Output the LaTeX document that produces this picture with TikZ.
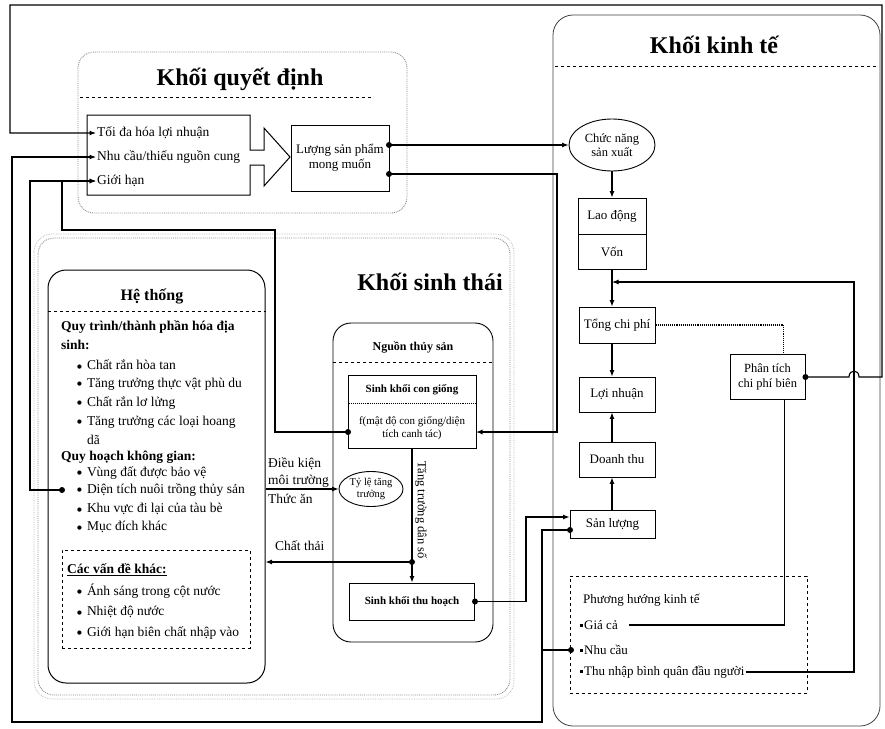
\documentclass[tikz,border=0pt]{standalone}
\usepackage{fontspec}
\setmainfont{Liberation Serif}
\newfontfamily\djfont{DejaVu Sans}
\usetikzlibrary{arrows.meta,shapes.geometric,calc}
\newcommand\bul{\raisebox{1.5pt}{\djfont\fontsize{5.5}{6}\selectfont ●}\hspace{5pt}}
\newcommand\sqb{\rule[2.5pt]{3pt}{3pt}\hspace{1pt}}
\tikzset{
  conn/.style={draw=black, line width=1.1pt},
  arr/.style={conn, -{Latex[length=6.5pt,width=5pt]}},
  blk/.style={draw=black!45, densely dotted, line width=0.9pt, rounded corners=16pt},
  box/.style={draw=black, line width=0.9pt, rectangle, inner sep=2pt, align=center, font=\fontsize{13}{15}\selectfont},
  lbl/.style={inner sep=1pt, anchor=west, font=\fontsize{13.5}{15}\selectfont},
  sml/.style={inner sep=1pt, align=center, font=\fontsize{11}{13}\selectfont},
  ttl/.style={inner sep=0pt, font=\fontsize{24}{28}\selectfont\bfseries},
}
\begin{document}
\begin{tikzpicture}[x=1pt,y=-1pt]
\useasboundingbox (0,0) rectangle (885,728);

% ---------- block frames ----------
\draw[blk] (78,52) rectangle (407,213);
\node[ttl] (tqd) at (240,79) {Khối quyết định};
\draw[dashed, line width=0.9pt] (80,97) -- (372,97);

\draw[blk] (38,238) rectangle (510,695);
\draw[draw=black!30, densely dotted, line width=0.7pt, rounded corners=18pt] (34,234) rectangle (514,699);
\node[ttl] (tst) at (430,282) {Khối sinh thái};

\draw[draw=black!75, line width=0.8pt, rounded corners=20pt] (553,15) rectangle (880,726);
\node[ttl] (tkt) at (714,45) {Khối kinh tế};
\draw[dashed, line width=0.9pt] (555,66) -- (878,66);

% ---------- decision block ----------
\draw[line width=1pt] (87,115) -- (250,115) -- (250,150) -- (264,150) -- (264,128) -- (290,157) -- (264,186) -- (264,165) -- (250,165) -- (250,195) -- (87,195) -- cycle;
\node[lbl] (t1) at (96,133) {Tối đa hóa lợi nhuận};
\node[lbl] (t2) at (96,157) {Nhu cầu/thiếu nguồn cung};
\node[lbl] (t3) at (96,181) {Giới hạn};
\node[box, minimum width=98pt, minimum height=66pt] (lsp) at (340,158) {Lượng sản phẩm\\mong muốn};
\coordinate (o1) at (389,145);
\coordinate (o2) at (389,174);

% ---------- system box ----------
\node[draw=black, line width=1pt, rounded corners=18pt, minimum width=217pt, minimum height=413pt] (ht) at (156.5,476.5) {};
\node[inner sep=0pt, font=\fontsize{16}{18}\selectfont\bfseries] (htt) at (152,296) {Hệ thống};
\draw[dashed, line width=0.9pt] (ht.west |- 0,311) -- (ht.east |- 0,311);
\node[lbl, font=\fontsize{13.5}{15}\selectfont\bfseries] (h1) at (60,327) {Quy trình/thành phần hóa địa};
\node[lbl, font=\fontsize{13.5}{15}\selectfont\bfseries] (h2) at (60,345) {sinh:};
\node[lbl] (h3) at (76,365) {\bul Chất rắn hòa tan};
\node[lbl] (h4) at (76,384) {\bul Tăng trưởng thực vật phù du};
\node[lbl] (h5) at (76,403) {\bul Chất rắn lơ lửng};
\node[lbl] (h6) at (76,422) {\bul Tăng trưởng các loại hoang};
\node[lbl] (h7) at (86,440) {dã};
\node[lbl, font=\fontsize{13.5}{15}\selectfont\bfseries] (h8) at (60,457) {Quy hoạch không gian:};
\node[lbl] (h9) at (76,473) {\bul Vùng đất được bảo vệ};
\node[lbl] (h10) at (76,490) {\bul Diện tích nuôi trồng thủy sản};
\node[lbl] (h11) at (76,509) {\bul Khu vực đi lại của tàu bè};
\node[lbl] (h12) at (76,527) {\bul Mục đích khác};
\coordinate (dtdot) at (62,490);

\node[draw=black, dashed, line width=0.9pt, minimum width=188pt, minimum height=98pt] (cvk) at (156,599) {};
\node[lbl, font=\fontsize{13.5}{15}\selectfont\bfseries] (c0) at (66,570) {\underline{Các vấn đề khác:}};
\node[lbl] (c1) at (76,591) {\bul Ánh sáng trong cột nước};
\node[lbl] (c2) at (76,612) {\bul Nhiệt độ nước};
\node[lbl] (c3) at (76,633) {\bul Giới hạn biên chất nhập vào};

% ---------- aquatic resource ----------
\node[draw=black, line width=0.9pt, rounded corners=18pt, minimum width=160pt, minimum height=319pt] (nts) at (413,482.5) {};
\node[inner sep=0pt, font=\fontsize{12}{14}\selectfont\bfseries] (ntst) at (413,347) {Nguồn thủy sản};
\draw[dashed, line width=0.9pt] (nts.west |- 0,362) -- (nts.east |- 0,362);
\node[draw=black, line width=1pt, minimum width=128pt, minimum height=73pt] (skcg) at (412,411.5) {};
\node[sml, font=\fontsize{11}{13}\selectfont\bfseries] (skcg1) at (412,390) {Sinh khối con giống};
\draw[densely dotted, line width=0.9pt] (skcg.west |- 0,403) -- (skcg.east |- 0,403);
\node[sml] (skcg2) at (412,428) {f(mật độ con giống/diện\\tích canh tác)};
\coordinate (gin) at (348,432);
\coordinate (gout) at (476,432);
\node[draw=black, line width=1pt, minimum width=125pt, minimum height=37pt, font=\fontsize{11}{13}\selectfont\bfseries] (skth) at (412,601.5) {Sinh khối thu hoạch};
\node[draw=black, ellipse, line width=0.9pt, minimum width=64pt, minimum height=35pt, inner sep=0pt, align=center, font=\fontsize{10.5}{12}\selectfont] (tlt) at (371,489) {Tỷ lệ tăng\\trưởng};
\coordinate (jd) at (412,562);
\node[rotate=-90, inner sep=1pt, font=\fontsize{12.5}{14}\selectfont] (tdl) at (421,510) {Tăng trưởng dân số};
\node[lbl] (dk1) at (267,464) {Điều kiện};
\node[lbl] (dk2) at (267,481) {môi trường};
\node[lbl] (dk3) at (267,499) {Thức ăn};
\node[lbl] (cth) at (274,546) {Chất thải};

% ---------- economic block ----------
\node[draw=black, ellipse, line width=0.9pt, minimum width=86pt, minimum height=52pt, inner sep=0pt, align=center, font=\fontsize{12.5}{14}\selectfont] (cns) at (612,145) {Chức năng\\sản xuất};
\node[box, minimum width=68pt, minimum height=36pt] (ld) at (612,216) {Lao động};
\node[box, minimum width=68pt, minimum height=35pt] (von) at (612,251.5) {Vốn};
\node[box, minimum width=76pt, minimum height=36pt] (tcp) at (617,325) {Tổng chi phí};
\node[box, minimum width=76pt, minimum height=35pt] (ln) at (617,394.5) {Lợi nhuận};
\node[box, minimum width=76pt, minimum height=35pt] (dt) at (617,459.5) {Doanh thu};
\node[box, minimum width=85pt, minimum height=28pt] (sl) at (612.5,524) {Sản lượng};
\node[box, minimum width=75pt, minimum height=45pt, font=\fontsize{12.5}{15}\selectfont] (ptc) at (767.5,377) {Phân tích\\chi phí biên};
\node[draw=black, dashed, line width=0.9pt, minimum width=237pt, minimum height=117pt] (phk) at (688.5,634.5) {};
\node[lbl, font=\fontsize{13}{15}\selectfont] (phk0) at (582,600) {Phương hướng kinh tế};
\node[lbl, font=\fontsize{13}{15}\selectfont] (gc) at (579,625) {\sqb Giá cả};
\node[lbl, font=\fontsize{13}{15}\selectfont] (nc) at (579,650) {\sqb Nhu cầu};
\node[lbl, font=\fontsize{13}{15}\selectfont] (tn) at (579,672) {\sqb Thu nhập bình quân đầu người};
\coordinate (ncdot) at (571,650);
\coordinate (sldot) at (570,530);
\coordinate (vj) at (612,282);

% ---------- connectors ----------
\draw[arr] (ptc.east) -- (849,377) .. controls (849,369) and (859,369) .. (859,377) -- (882,377) -- (882,5) -- (10,5) -- (10,133) -- (t1.west);
\draw[arr] (o1) -- (cns.west);
\draw[arr] (o2) -- (557,174) -- (557,432) -- (gout);
\draw[arr] (gin) -- (275,432) -- (275,230) -- (62,230) -- (62,181) -- (t3.west);
\draw[arr] (dtdot) -- (30,490) -- (30,181) -- (t3.west);
\draw[arr] (sldot) -- (542,530) -- (542,722) -- (12,722) -- (12,157) -- (t2.west);
\draw[conn] (ncdot) -- (542,650);
\draw[arr] (skth.east) -- (526,601.5) -- (526,517) -- (sl.west |- 0,517);
\draw[arr] (cns.south) -- (ld.north);
\draw[arr] (von.south) -- (von.south |- tcp.north);
\draw[arr] (tn.east) -| (854,282) -- (vj);
\draw[arr] (von.south |- tcp.south) -- (von.south |- ln.north);
\draw[arr] (von.south |- dt.north) -- (von.south |- ln.south);
\draw[arr] (von.south |- sl.north) -- (von.south |- dt.south);
\draw[conn, densely dotted] (tcp.east) -| ([xshift=16pt]ptc.north);
\draw[conn] ([xshift=10pt]gc.east) -| ([xshift=17pt]ptc.south);
\draw[conn] (skcg.south) -- (jd);
\draw[arr] (jd) -- (skth.north);
\draw[arr] (jd) -- (ht.east |- jd);
\draw[arr] (ht.east |- 0,489) -- (tlt.west);

% dots
\foreach \p in {o1,o2,gin,dtdot,sldot,ncdot,jd,skth.east,ptc.east}
  \fill[black] (\p) circle (3pt);
\end{tikzpicture}
\end{document}
